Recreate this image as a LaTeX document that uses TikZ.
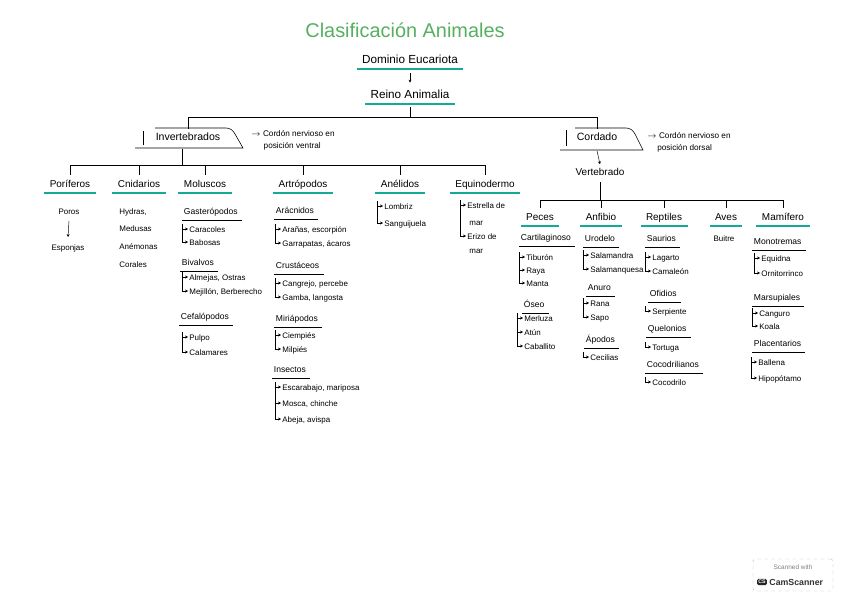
\documentclass[tikz,border=0pt]{standalone}
\usepackage{fontspec}
\setmainfont{Liberation Sans}
\usetikzlibrary{calc,arrows.meta}
\definecolor{verdetit}{RGB}{86,176,96}
\definecolor{turquesa}{RGB}{20,170,150}

\begin{document}
\begin{tikzpicture}[x=0.3mm,y=-0.3mm,
    titulo/.style={font=\fontsize{17}{20}\selectfont, text=verdetit},
    grupo/.style={font=\fontsize{8.5}{10}\selectfont, inner sep=1.5pt, text height=1.7ex, text depth=0.5ex,
      append after command={([xshift=-3pt]\tikzlastnode.south west) edge[turquesa, line width=1.3pt] ([xshift=3pt]\tikzlastnode.south east)}},
    sub/.style={anchor=west, font=\fontsize{7.3}{9}\selectfont, inner sep=1.5pt, text height=1.7ex, text depth=0.5ex,
      append after command={(\tikzlastnode.south west) edge[line width=0.5pt] ([xshift=2pt]\tikzlastnode.south east)}},
    item/.style={anchor=west, font=\fontsize{6.8}{8}\selectfont, inner sep=1pt, text height=1.6ex, text depth=0.4ex},
    nota/.style={anchor=west, align=left, font=\fontsize{7}{10}\selectfont, inner sep=1pt},
    caja/.style={line width=0.5pt},
    brk/.style={-{Stealth[length=2.5pt,width=2.5pt]}, line width=0.4pt},
    rama/.style={line width=0.6pt}]
  \useasboundingbox[fill=white] (0,0) rectangle (848,599);

  % cabecera
  \node[titulo] (titulo) at (405,30) {Clasificación Animales};
  \node[grupo,font=\fontsize{10}{12}\selectfont] (dom) at (410,60) {Dominio Eucariota};
  \node[grupo,font=\fontsize{10}{12}\selectfont] (reino) at (410,95) {Reino Animalia};
  \draw[brk] ([yshift=-4pt]dom.south) -- ([yshift=3pt]reino.north);

  \node[font=\fontsize{9}{11}\selectfont] (inv) at (188,137) {Invertebrados};
  \node[font=\fontsize{9}{11}\selectfont] (cord) at (597,137) {Cordado};
  \draw[rama] ([yshift=-3pt]reino.south) -- ++(0,10) coordinate (bif);
  \draw[rama] (inv.north) |- (bif) -| (cord.north);

  % cajas
  \draw[caja] (155,128) -- (226,128) to[out=0,in=120] (235,134) -- (243,148) -- (135,148);
  \draw[caja] (143,131) -- (143,145);
  \draw[caja] (575,128) -- (626,128) to[out=0,in=120] (635,134) -- (643,150) -- (560,150);
  \draw[caja] (566,130) -- (566,146);
  \node[nota] (notainv) at (250,140) {$\rightarrow$ Cordón nervioso en\\\hspace{1.5em}posición ventral};
  \node[nota] (notacord) at (646,142) {$\rightarrow$ Cordón nervioso en\\\hspace{1.2em}posición dorsal};

  % invertebrados
  \node[grupo] (pori) at (70,184) {Poríferos};
  \node[grupo] (cnid) at (139,184) {Cnidarios};
  \node[grupo] (molu) at (205,184) {Moluscos};
  \node[grupo] (artr) at (303,184) {Artrópodos};
  \node[grupo] (anel) at (400,184) {Anélidos};
  \node[grupo] (equi) at (485,184) {Equinodermo};
  \coordinate (invb) at (182,149);
  \coordinate (invh) at (182,165);
  \draw[rama] (invb) -- (invh) (invh) -| (pori.north) (invh) -| (cnid.north)
    (invh) -| (molu.north) (invh) -| (artr.north) (invh) -| (anel.north) (invh) -| (equi.north);

  \node[item,anchor=center] (poro) at (69,211) {Poros};
  \node[item,anchor=center] (espo) at (68,247) {Esponjas};
  \draw[brk] ([yshift=-2pt]poro.south) -- ([yshift=2pt]espo.north);

  \node[item] (hydr) at (118,211) {Hydras,};
  \node[item] (medu) at (118,228) {Medusas};
  \node[item] (anem) at (118,246) {Anémonas};
  \node[item] (cora) at (118,264) {Corales};

  \node[sub] (gast) at (182,211) {Gasterópodos};
  \node[item] (cara) at (188,229) {Caracoles};
  \node[item] (babo) at (188,242) {Babosas};
  \node[sub] (biva) at (180,262) {Bivalvos};
  \node[item] (alme) at (188,277) {Almejas, Ostras};
  \node[item] (meji) at (188,291) {Mejillón, Berberecho};
  \node[sub] (cefa) at (179,316) {Cefalópodos};
  \node[item] (pulp) at (188,337) {Pulpo};
  \node[item] (cala) at (188,352) {Calamares};
  \draw[brk] ([xshift=-5pt,yshift=4pt]cara.west) |- (babo.west);
  \draw[brk] ([xshift=-5pt]cara.west) -- (cara.west);
  \draw[brk] ([xshift=-5pt,yshift=4pt]alme.west) |- (meji.west);
  \draw[brk] ([xshift=-5pt]alme.west) -- (alme.west);
  \draw[brk] ([xshift=-5pt,yshift=4pt]pulp.west) |- (cala.west);
  \draw[brk] ([xshift=-5pt]pulp.west) -- (pulp.west);

  \node[sub] (arac) at (274,210) {Arácnidos};
  \node[item] (aran) at (281,229) {Arañas, escorpión};
  \node[item] (garr) at (281,243) {Garrapatas, ácaros};
  \node[sub] (crus) at (274,265) {Crustáceos};
  \node[item] (cang) at (281,283) {Cangrejo, percebe};
  \node[item] (gamb) at (281,297) {Gamba, langosta};
  \node[sub] (miri) at (274,318) {Miriápodos};
  \node[item] (ciem) at (281,335) {Ciempiés};
  \node[item] (milp) at (281,349) {Milpiés};
  \node[sub] (inse) at (272,369) {Insectos};
  \node[item] (esca) at (281,387) {Escarabajo, mariposa};
  \node[item] (mosc) at (281,403) {Mosca, chinche};
  \node[item] (abej) at (281,419) {Abeja, avispa};
  \draw[brk] ([xshift=-5pt,yshift=4pt]aran.west) |- (garr.west);
  \draw[brk] ([xshift=-5pt]aran.west) -- (aran.west);
  \draw[brk] ([xshift=-5pt,yshift=4pt]cang.west) |- (gamb.west);
  \draw[brk] ([xshift=-5pt]cang.west) -- (cang.west);
  \draw[brk] ([xshift=-5pt,yshift=4pt]ciem.west) |- (milp.west);
  \draw[brk] ([xshift=-5pt]ciem.west) -- (ciem.west);
  \draw[brk] ([xshift=-5pt,yshift=4pt]esca.west) |- (abej.west);
  \draw[brk] ([xshift=-5pt]esca.west) -- (esca.west);
  \draw[brk] ([xshift=-5pt]mosc.west) -- (mosc.west);

  \node[item] (lomb) at (383,206) {Lombriz};
  \node[item] (sang) at (383,223) {Sanguijuela};
  \draw[brk] ([xshift=-5pt,yshift=4pt]lomb.west) |- (sang.west);
  \draw[brk] ([xshift=-5pt]lomb.west) -- (lomb.west);

  \node[item] (estr) at (466,205) {Estrella de};
  \node[item] (mar1) at (468,222) {mar};
  \node[item] (eriz) at (466,236) {Erizo de};
  \node[item] (mar2) at (468,250) {mar};
  \draw[brk] ([xshift=-5pt,yshift=4pt]estr.west) |- (eriz.west);
  \draw[brk] ([xshift=-5pt]estr.west) -- (estr.west);

  % vertebrados
  \node[font=\fontsize{8.5}{10}\selectfont] (vert) at (600,172) {Vertebrado};
  \draw[brk] ([yshift=-5pt]cord.south) -- (vert.north);
  \node[grupo] (pece) at (540,217) {Peces};
  \node[grupo] (anfi) at (601,217) {Anfibio};
  \node[grupo] (rept) at (664,217) {Reptiles};
  \node[grupo] (aves) at (726,217) {Aves};
  \node[grupo] (mami) at (783,217) {Mamífero};
  \draw[rama] ([yshift=-2pt]vert.south) -- ++(0,18) coordinate (verh);
  \draw[rama] (verh) -| (pece.north) (verh) -| (anfi.north) (verh) -| (rept.north)
    (verh) -| (aves.north) (verh) -| (mami.north);

  \node[sub] (cart) at (519,237) {Cartilaginoso};
  \node[item] (tibu) at (525,257) {Tiburón};
  \node[item] (raya) at (525,270) {Raya};
  \node[item] (mant) at (525,283) {Manta};
  \node[sub] (oseo) at (522,304) {Óseo};
  \node[item] (merl) at (523,318) {Merluza};
  \node[item] (atun) at (523,332) {Atún};
  \node[item] (caba) at (523,346) {Caballito};
  \draw[brk] ([xshift=-5pt,yshift=4pt]tibu.west) |- (mant.west);
  \draw[brk] ([xshift=-5pt]tibu.west) -- (tibu.west);
  \draw[brk] ([xshift=-5pt]raya.west) -- (raya.west);
  \draw[brk] ([xshift=-5pt,yshift=4pt]merl.west) |- (caba.west);
  \draw[brk] ([xshift=-5pt]merl.west) -- (merl.west);
  \draw[brk] ([xshift=-5pt]atun.west) -- (atun.west);

  \node[sub] (urod) at (583,238) {Urodelo};
  \node[item] (sala) at (589,255) {Salamandra};
  \node[item] (salq) at (589,269) {Salamanquesa};
  \node[sub] (anur) at (586,287) {Anuro};
  \node[item] (rana) at (589,303) {Rana};
  \node[item] (sapo) at (589,317) {Sapo};
  \node[sub] (apod) at (584,339) {Ápodos};
  \node[item] (ceci) at (589,357) {Cecilias};
  \draw[brk] ([xshift=-5pt,yshift=4pt]sala.west) |- (salq.west);
  \draw[brk] ([xshift=-5pt]sala.west) -- (sala.west);
  \draw[brk] ([xshift=-5pt,yshift=4pt]rana.west) |- (sapo.west);
  \draw[brk] ([xshift=-5pt]rana.west) -- (rana.west);
  \draw[brk] ([xshift=-5pt,yshift=4pt]ceci.west) |- (ceci.west);

  \node[sub] (saur) at (645,238) {Saurios};
  \node[item] (laga) at (651,257) {Lagarto};
  \node[item] (cama) at (651,271) {Camaleón};
  \node[sub] (ofid) at (648,293) {Ofidios};
  \node[item] (serp) at (651,311) {Serpiente};
  \node[sub] (quel) at (646,328) {Quelonios};
  \node[item] (tort) at (651,347) {Tortuga};
  \node[sub] (coco) at (645,364) {Cocodrilianos};
  \node[item] (cocd) at (651,382) {Cocodrilo};
  \draw[brk] ([xshift=-5pt,yshift=4pt]laga.west) |- (cama.west);
  \draw[brk] ([xshift=-5pt]laga.west) -- (laga.west);
  \draw[brk] ([xshift=-5pt,yshift=4pt]serp.west) |- (serp.west);
  \draw[brk] ([xshift=-5pt,yshift=4pt]tort.west) |- (tort.west);
  \draw[brk] ([xshift=-5pt,yshift=4pt]cocd.west) |- (cocd.west);

  \node[item,anchor=center] (buit) at (724,238) {Buitre};

  \node[sub] (mono) at (752,241) {Monotremas};
  \node[item] (eqdn) at (760,258) {Equidna};
  \node[item] (orni) at (760,273) {Ornitorrinco};
  \node[sub] (mars) at (752,297) {Marsupiales};
  \node[item] (cang2) at (758,313) {Canguro};
  \node[item] (koal) at (758,326) {Koala};
  \node[sub] (plac) at (752,343) {Placentarios};
  \node[item] (ball) at (757,362) {Ballena};
  \node[item] (hipo) at (757,378) {Hipopótamo};
  \draw[brk] ([xshift=-5pt,yshift=4pt]eqdn.west) |- (orni.west);
  \draw[brk] ([xshift=-5pt]eqdn.west) -- (eqdn.west);
  \draw[brk] ([xshift=-5pt,yshift=4pt]cang2.west) |- (koal.west);
  \draw[brk] ([xshift=-5pt]cang2.west) -- (cang2.west);
  \draw[brk] ([xshift=-5pt,yshift=4pt]ball.west) |- (hipo.west);
  \draw[brk] ([xshift=-5pt]ball.west) -- (ball.west);

  % sello
  \node[draw=gray!50, dashed, rounded corners=1.5pt, minimum width=24mm, minimum height=9.6mm] (sello) at (793,575) {};
  \node[font=\fontsize{5.5}{6}\selectfont, text=gray] (scantxt) at (793,567) {Scanned with};
  \node[fill=black!85, text=white, rounded corners=1pt, font=\bfseries\fontsize{4.5}{5}\selectfont, inner sep=1pt] (cslogo) at (762,582) {CS};
  \node[anchor=west, font=\bfseries\fontsize{7.5}{9}\selectfont, text=black!80, inner sep=1pt] (camsc) at (768,582) {CamScanner};
\end{tikzpicture}
\end{document}
